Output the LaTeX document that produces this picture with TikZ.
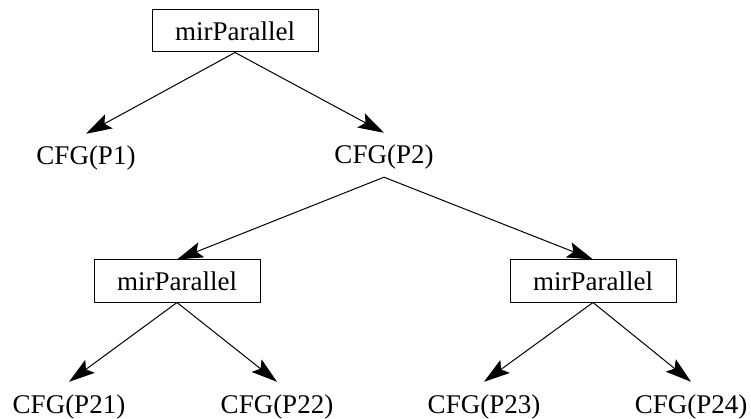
\documentclass[tikz,border=0pt]{standalone}
\usepackage{fontspec}
\setmainfont{Liberation Serif}
\usepackage{tikz}
\usetikzlibrary{arrows.meta,positioning}
\tikzset{
  par/.style={draw,line width=1pt,minimum width=166pt,minimum height=42pt,inner sep=0pt},
  cfg/.style={anchor=base,inner xsep=2pt,inner ysep=7pt,text height=24pt,text depth=6pt},
  edge/.style={line width=1pt,-{Stealth[length=26pt,width=16pt,inset=5pt]}},
  every node/.style={font=\fontsize{27}{32}\selectfont}
}

\begin{document}
\begin{tikzpicture}[x=1pt,y=-1pt]
  \useasboundingbox (0,0) rectangle (751,419);
  \node[par] (top) at (235,31) {mirParallel};
  \node[cfg] (p1) at (86,165) {CFG(P1)};
  \node[cfg] (p2) at (384,164) {CFG(P2)};
  \node[par] (left) at (177,281) {mirParallel};
  \node[par] (right) at (593,281) {mirParallel};
  \node[cfg] (p21) at (69,413) {CFG(P21)};
  \node[cfg] (p22) at (277,413) {CFG(P22)};
  \node[cfg] (p23) at (484,413) {CFG(P23)};
  \node[cfg] (p24) at (691,413) {CFG(P24)};
  \draw[edge] (top.south) -- (p1.north);
  \draw[edge] (top.south) -- (p2.north);
  \draw[edge] (p2.south) -- (left.north);
  \draw[edge] (p2.south) -- (right.north);
  \draw[edge] (left.south) -- (p21.north);
  \draw[edge] (left.south) -- (p22.north);
  \draw[edge] (right.south) -- (p23.north);
  \draw[edge] (right.south) -- (p24.north);
\end{tikzpicture}
\end{document}
